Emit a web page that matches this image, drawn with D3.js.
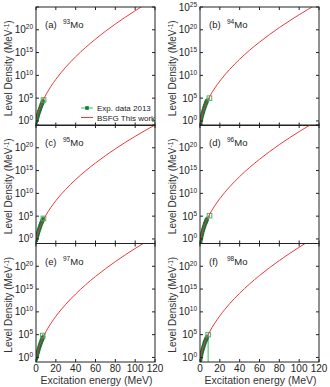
<!DOCTYPE html>
<html>
<head>
<meta charset="utf-8">
<script src="https://cdn.jsdelivr.net/npm/d3@7/dist/d3.min.js"></script>
<style>
  body { margin: 0; background: #fff; }
  svg { display: block; font-family: "Liberation Sans", Arial, sans-serif; }
</style>
</head>
<body>
<svg id="chart" width="330" height="387"></svg>
<script>
// panels, isotopes
const panelTags = ["(a)", "(b)", "(c)", "(d)", "(e)", "(f)"];
const massNumbers = ["93", "94", "95", "96", "97", "98"];

// BSFG curves, log10 of level density
const curveE = [0.3, 1, 2, 3, 4, 5, 6, 8, 10, 12, 15, 20, 25, 30, 40, 50, 60, 70, 80, 90, 100, 110, 120];
const curve93 = [0.11, 0.76, 1.58, 2.27, 2.89, 3.45, 3.96, 4.89, 5.74, 6.51, 7.56, 9.13, 10.53, 11.81, 14.09, 16.12, 17.97, 19.67, 21.26, 22.76, 24.18, 25.54, 26.83];
const curve94 = [-0.54, 0.17, 1.15, 1.92, 2.61, 3.25, 3.75, 4.65, 5.46, 6.21, 7.23, 8.74, 10.10, 11.33, 13.54, 15.51, 17.29, 18.94, 20.48, 21.93, 23.31, 24.62, 25.88];
const curve95 = [0.02, 0.59, 1.34, 1.98, 2.55, 3.07, 3.55, 4.42, 5.21, 5.93, 6.92, 8.39, 9.70, 10.89, 13.04, 14.94, 16.67, 18.27, 19.77, 21.18, 22.51, 23.78, 25.00];
const curve96 = [-0.52, 0.20, 1.19, 1.96, 2.66, 3.31, 3.81, 4.72, 5.54, 6.29, 7.32, 8.85, 10.22, 11.46, 13.69, 15.68, 17.48, 19.14, 20.70, 22.16, 23.55, 24.87, 26.14];
const curve97 = [0.10, 0.73, 1.54, 2.23, 2.84, 3.39, 3.90, 4.82, 5.65, 6.42, 7.46, 9.02, 10.40, 11.67, 13.93, 15.94, 17.77, 19.45, 21.03, 22.51, 23.92, 25.26, 26.54];
const curve98 = [-0.49, 0.26, 1.28, 2.07, 2.79, 3.45, 3.96, 4.89, 5.74, 6.51, 7.56, 9.13, 10.53, 11.81, 14.09, 16.12, 17.97, 19.67, 21.26, 22.76, 24.18, 25.54, 26.83];
const curves = [curve93, curve94, curve95, curve96, curve97, curve98];

// Exp. data 2013 (log10), shared energy grid
const expE = [0.2, 0.6, 1.0, 1.4, 1.8, 2.2, 2.6, 3.0, 3.4, 3.8, 4.2, 4.6, 5.0, 5.4, 5.8, 6.2, 6.6, 7.0];
const exp93 = [-0.2, 0.2, 0.5, 0.8, 1.1, 1.4, 1.7, 2.0, 2.2, 2.5, 2.7, 3.0, 3.2, 3.5, 3.7, 3.9, 4.1, 4.3];
const exp94 = [-0.9, -0.4, 0.1, 0.5, 0.9, 1.3, 1.6, 1.9, 2.2, 2.5, 2.8, 3.0, 3.3, 3.5, 3.8, 4.0, 4.2, 4.4];
const exp95 = [-0.3, 0.1, 0.5, 0.8, 1.1, 1.4, 1.7, 2.0, 2.3, 2.5, 2.8, 3.0, 3.3, 3.5, 3.7, 3.9, 4.1, 4.3];
const exp96 = [-1.0, -0.5, 0.0, 0.4, 0.8, 1.2, 1.5, 1.9, 2.2, 2.5, 2.7, 3.0, 3.3, 3.5, 3.7, 3.9, 4.1, 4.3];
const exp97 = [-0.3, 0.1, 0.5, 0.8, 1.1, 1.4, 1.7, 2.0, 2.3, 2.6, 2.8, 3.1, 3.3, 3.6, 3.8, 4.0, 4.2, 4.4];
const exp98 = [-0.9, -0.4, 0.1, 0.6, 1.0, 1.4, 1.7, 2.0, 2.3, 2.6, 2.9, 3.1, 3.4, 3.6, 3.8, 4.0, 4.2, 4.4];
const exps = [exp93, exp94, exp95, exp96, exp97, exp98];
const expErr = 0.7;
// last (open) point of each data set: energy, value, lower end of error bar
const lastE = [7.6, 9.5, 7.5, 9.6, 6.8, 8.2];
const lastV = [4.6, 5.0, 4.5, 5.1, 4.8, 5.0];
const lastLow = [4.0, 4.5, 3.9, 4.6, 4.2, -2];

const xTicks = [0, 20, 40, 60, 80, 100, 120];
const yTickExps = [0, 5, 10, 15, 20, 25];

const svg = d3.select("#chart");
const colX = [36, 200], rowY = [7, 125, 243.5];
const w = 119, h = 118.5;
const red = "#ee3a3a", dark = "#0b7a3b", light = "#45b86a";

const x = d3.scaleLinear().domain([0, 120]).range([0, w]);
const y = d3.scaleLog().domain([1e-1, 1e25]).range([h, 0]);

panelTags.forEach((tag, i) => {
  const col = i % 2, row = Math.floor(i / 2);
  const g = svg.append("g").attr("transform", `translate(${colX[col]},${rowY[row]})`);
  const clipId = "clip" + i;
  g.append("clipPath").attr("id", clipId).append("rect").attr("width", w).attr("height", h);
  const plot = g.append("g").attr("clip-path", `url(#${clipId})`);

  // error bars
  const pts = expE.map((e, k) => ({ e, v: exps[i][k] }));
  plot.selectAll(".err").data(pts).join("line")
    .attr("x1", d => x(d.e)).attr("x2", d => x(d.e))
    .attr("y1", d => y(10 ** (d.v - expErr))).attr("y2", d => y(10 ** (d.v + expErr)))
    .attr("stroke", light).attr("stroke-width", 1.2);
  plot.append("line")
    .attr("x1", x(lastE[i])).attr("x2", x(lastE[i]))
    .attr("y1", y(10 ** lastLow[i])).attr("y2", y(10 ** (lastV[i] + 0.3)))
    .attr("stroke", light).attr("stroke-width", 1);
  plot.selectAll(".pt").data(pts).join("rect")
    .attr("x", d => x(d.e) - 1.8).attr("y", d => y(10 ** d.v) - 1.8)
    .attr("width", 3.6).attr("height", 3.6).attr("fill", dark);
  plot.append("rect")
    .attr("x", x(lastE[i]) - 2.3).attr("y", y(10 ** lastV[i]) - 2.3)
    .attr("width", 4.6).attr("height", 4.6)
    .attr("fill", "none").attr("stroke", light).attr("stroke-width", 1);

  // BSFG curve
  const line = d3.line().x(d => x(d[0])).y(d => y(10 ** d[1])).curve(d3.curveMonotoneX);
  plot.append("path").datum(curveE.map((e, k) => [e, curves[i][k]]))
    .attr("d", line).attr("fill", "none").attr("stroke", red).attr("stroke-width", 1);

  // frame and ticks
  g.append("rect").attr("width", w).attr("height", h)
    .attr("fill", "none").attr("stroke", "#222").attr("stroke-width", 1);
  xTicks.forEach(t => {
    g.append("line").attr("x1", x(t)).attr("x2", x(t)).attr("y1", h).attr("y2", h - 3).attr("stroke", "#222");
    g.append("line").attr("x1", x(t)).attr("x2", x(t)).attr("y1", 0).attr("y2", 3).attr("stroke", "#222");
  });
  yTickExps.forEach(p => {
    const yy = y(10 ** p);
    g.append("line").attr("x1", 0).attr("x2", 3).attr("y1", yy).attr("y2", yy).attr("stroke", "#222");
    g.append("line").attr("x1", w).attr("x2", w - 3).attr("y1", yy).attr("y2", yy).attr("stroke", "#222");
    if (p === 25 && i !== 1) return;
    const lab = g.append("text").attr("x", -3).attr("y", yy + 3.5)
      .attr("text-anchor", "end").attr("font-size", 10).attr("fill", "#222");
    lab.append("tspan").text("10");
    lab.append("tspan").attr("dy", -4).attr("font-size", 6.5).text(p);
  });

  // y title
  g.append("text")
    .attr("transform", `translate(${-24},${h / 2 + 2}) rotate(-90)`)
    .attr("text-anchor", "middle").attr("font-size", 10).attr("fill", "#333")
    .call(t => {
      t.append("tspan").text("Level Density (MeV");
      t.append("tspan").attr("dy", -3.5).attr("font-size", 6.5).text("-1");
      t.append("tspan").attr("dy", 3.5).text(")");
    });

  // panel label
  const pl = g.append("text").attr("x", 9).attr("y", 21).attr("font-size", 9.5).attr("fill", "#222");
  pl.append("tspan").text(tag);
  pl.append("tspan").attr("x", 27).attr("dy", -4).attr("font-size", 6.5).text(massNumbers[i]);
  pl.append("tspan").attr("dy", 4).text("Mo");

  // bottom row axis labels
  if (row === 2) {
    xTicks.forEach(t => {
      g.append("text").attr("x", x(t)).attr("y", h + 10)
        .attr("text-anchor", "middle").attr("font-size", 10).attr("fill", "#222").text(t);
    });
    g.append("text").attr("x", w / 2 + 1).attr("y", h + 21.5)
      .attr("text-anchor", "middle").attr("font-size", 10.5).attr("fill", "#333")
      .text("Excitation energy (MeV)");
  }

  // legend in panel (a)
  if (i === 0) {
    const lg = g.append("g").attr("transform", "translate(45,101)");
    lg.append("line").attr("x1", 0).attr("x2", 12).attr("y1", 0).attr("y2", 0).attr("stroke", light);
    lg.append("rect").attr("x", 4.2).attr("y", -1.8).attr("width", 3.6).attr("height", 3.6).attr("fill", dark);
    lg.append("text").attr("x", 16).attr("y", 3).attr("font-size", 8).attr("fill", "#222").text("Exp. data 2013");
    lg.append("line").attr("x1", 0).attr("x2", 12).attr("y1", 9.5).attr("y2", 9.5).attr("stroke", red);
    lg.append("text").attr("x", 16).attr("y", 12.5).attr("font-size", 8).attr("fill", "#222").text("BSFG This work");
  }
});
</script>
</body>
</html>
